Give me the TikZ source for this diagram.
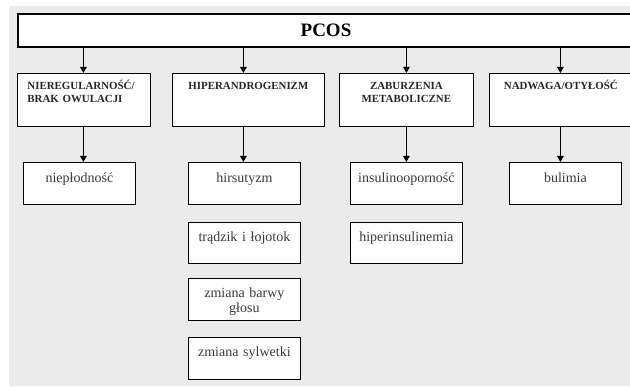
\documentclass[tikz,border=0pt]{standalone}
\usepackage{fontspec}
\setmainfont{Liberation Serif}
\usetikzlibrary{arrows.meta}
\definecolor{bggray}{HTML}{EBEBEB}
\definecolor{headtext}{HTML}{262626}
\definecolor{subtext}{HTML}{3A3A3A}
\begin{document}
\begin{tikzpicture}[x=1pt,y=-1pt,
  box/.style={draw=black, line width=0.8pt, fill=white, inner sep=0pt, anchor=north west},
  catbox/.style={box, minimum height=53pt, text height=16pt, text depth=37pt,
    font=\fontsize{10.9}{13}\selectfont\bfseries, text=headtext},
  subbox/.style={box, minimum width=112pt, text width=112pt, align=center,
    font=\fontsize{14}{15}\selectfont, text=subtext},
  arr/.style={line width=0.8pt, -{Triangle[length=6pt,width=6.5pt]}}
]
\clip (0,0) rectangle (630,387);
\fill[bggray] (9,6) rectangle (630,386);

\node[box, line width=2pt, minimum width=616pt, minimum height=33pt,
  font=\fontsize{19}{22}\selectfont\bfseries] (pcos) at (17,13) {PCOS};

\node[catbox, inner xsep=10pt, text width=113pt, align=left] (b1) at (17,73)
  {NIEREGULARNOŚĆ/\\BRAK OWULACJI};
\node[catbox, inner xsep=16pt, text width=120pt, align=left] (b2) at (172,73)
  {HIPERANDROGENIZM};
\node[catbox, text width=134pt, align=center] (b3) at (339,73)
  {ZABURZENIA\\METABOLICZNE};
\node[catbox, text width=143pt, align=center] (b4) at (489,73)
  {NADWAGA/OTYŁOŚĆ};

\node[subbox, minimum height=42pt, text height=20pt, text depth=22pt] (s11) at (23,162) {niepłodność};
\node[subbox, minimum height=42pt, text height=20pt, text depth=22pt] (s21) at (188,162) {hirsutyzm};
\node[subbox, minimum height=41pt, text height=19pt, text depth=22pt] (s22) at (188,222) {trądzik i łojotok};
\node[subbox, minimum height=42pt, text height=19pt, text depth=23pt] (s23) at (188,278) {zmiana barwy\\głosu};
\node[subbox, minimum height=42pt, text height=19pt, text depth=23pt] (s24) at (188,337) {zmiana sylwetki};
\node[subbox, minimum height=42pt, text height=20pt, text depth=22pt] (s31) at (350,162) {insulinooporność};
\node[subbox, minimum height=41pt, text height=19pt, text depth=22pt] (s32) at (350,222) {hiperinsulinemia};
\node[subbox, minimum height=42pt, text height=20pt, text depth=22pt] (s41) at (509,162) {bulimia};

\draw[arr] ([xshift=-0.5pt]b1.north |- pcos.south) -- ([xshift=-0.5pt]b1.north);
\draw[arr] ([xshift=-5pt]b2.north |- pcos.south) -- ([xshift=-5pt]b2.north);
\draw[arr] (b3.north |- pcos.south) -- (b3.north);
\draw[arr] ([xshift=-0.5pt]b4.north |- pcos.south) -- ([xshift=-0.5pt]b4.north);

\draw[arr] ([xshift=-0.5pt]b1.south) -- ([xshift=-0.5pt]b1.south |- s11.north);
\draw[arr] ([xshift=-5pt]b2.south) -- ([xshift=-5pt]b2.south |- s21.north);
\draw[arr] (b3.south) -- (b3.south |- s31.north);
\draw[arr] ([xshift=-0.5pt]b4.south) -- ([xshift=-0.5pt]b4.south |- s41.north);
\end{tikzpicture}
\end{document}
